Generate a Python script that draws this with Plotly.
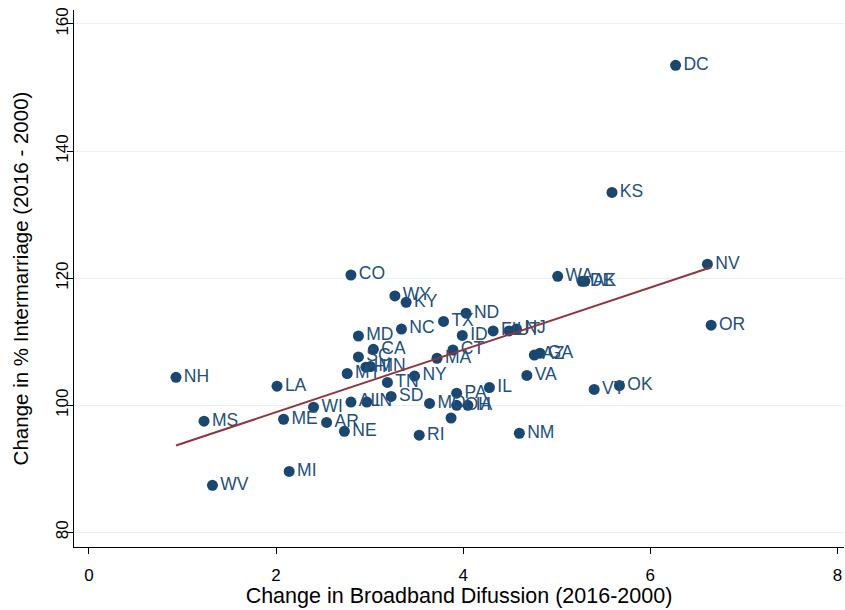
import numpy as np
import plotly.graph_objects as go

states = ["DC","KS","NV","OR","WA","DE","AK","CO","WY","KY","ND","TX","NC","MD","ID",
          "FL","UT","NJ","CA","SC","HI","MN","MT","CT","MA","AZ","GA","VA","IL","PA",
          "VT","OK","NY","TN","SD","AL","IN","MO","OH","IA","","WI","ME","AR","NE",
          "RI","NM","LA","NH","MS","WV","MI"]
broadband = [6.27,5.59,6.61,6.65,5.01,5.27,5.30,2.80,3.27,3.39,4.03,3.79,3.34,2.88,3.99,
             4.32,4.49,4.57,3.04,2.88,2.96,3.01,2.76,3.89,3.72,4.76,4.82,4.68,4.28,3.93,
             5.40,5.67,3.48,3.19,3.23,2.80,2.97,3.64,3.93,4.05,3.87,2.40,2.08,2.54,2.73,
             3.53,4.60,2.01,0.93,1.23,1.32,2.14]
intermarriage = [153.5,133.5,122.2,112.6,120.3,119.5,119.5,120.5,117.2,116.2,114.5,113.2,112.0,110.9,111.0,
                 111.7,111.7,112.0,108.8,107.6,106.0,106.1,105.0,108.7,107.4,107.9,108.2,104.7,102.8,101.9,
                 102.5,103.1,104.6,103.6,101.4,100.5,100.5,100.3,100.0,100.0,98.0,99.7,97.8,97.3,95.9,
                 95.3,95.6,103.0,104.4,97.5,87.4,89.6]
x_ticks = [0, 2, 4, 6, 8]
y_ticks = [80, 100, 120, 140, 160]

x = np.array(broadband)
y = np.array(intermarriage)
slope, intercept = np.polyfit(x, y, 1)
xf = np.array([x.min(), x.max()])
yf = intercept + slope * xf

navy = "#1a476f"
font_family = "Liberation Sans, Arial, sans-serif"
fig = go.Figure()
fig.add_trace(go.Scatter(
    x=broadband, y=intermarriage, mode="markers+text", text=states,
    textposition="middle right",
    textfont=dict(family=font_family, size=17.5, color="#234f7d"),
    marker=dict(color=navy, size=11, line=dict(width=0)),
    showlegend=False, cliponaxis=False))
fig.add_trace(go.Scatter(
    x=xf, y=yf, mode="lines", line=dict(color="#90353b", width=2),
    showlegend=False))

fig.update_layout(
    width=845, height=610,
    margin=dict(l=74, r=1, t=10, b=63),
    paper_bgcolor="white", plot_bgcolor="white",
    font=dict(family=font_family, size=17, color="black"),
    xaxis=dict(range=[-0.16, 8.07], tickvals=x_ticks, showgrid=False, zeroline=False,
               automargin=False, ticklabeloverflow="allow", ticklabelstandoff=6,
               showline=True, linecolor="black", linewidth=1.2,
               ticks="outside", ticklen=6, tickcolor="black",
               title=dict(text="Change in Broadband Difussion (2016-2000)", font=dict(size=21.5), standoff=0)),
    yaxis=dict(range=[77.7, 162.2], tickvals=y_ticks, showgrid=True, gridcolor="#e8f0f2",
               gridwidth=1, zeroline=False, automargin=False,
               ticklabeloverflow="allow", ticklabelstandoff=-8,
               showline=True, linecolor="black", linewidth=1.2,
               ticks="outside", ticklen=6, tickcolor="black", tickangle=-90,
               title=dict(text="Change in % Intermarriage (2016 - 2000)", font=dict(size=20.5), standoff=18)),
)
fig.write_html("out.html", config={"displayModeBar": False},
               post_script="document.body.style.margin='0';document.body.style.overflow='hidden';")
